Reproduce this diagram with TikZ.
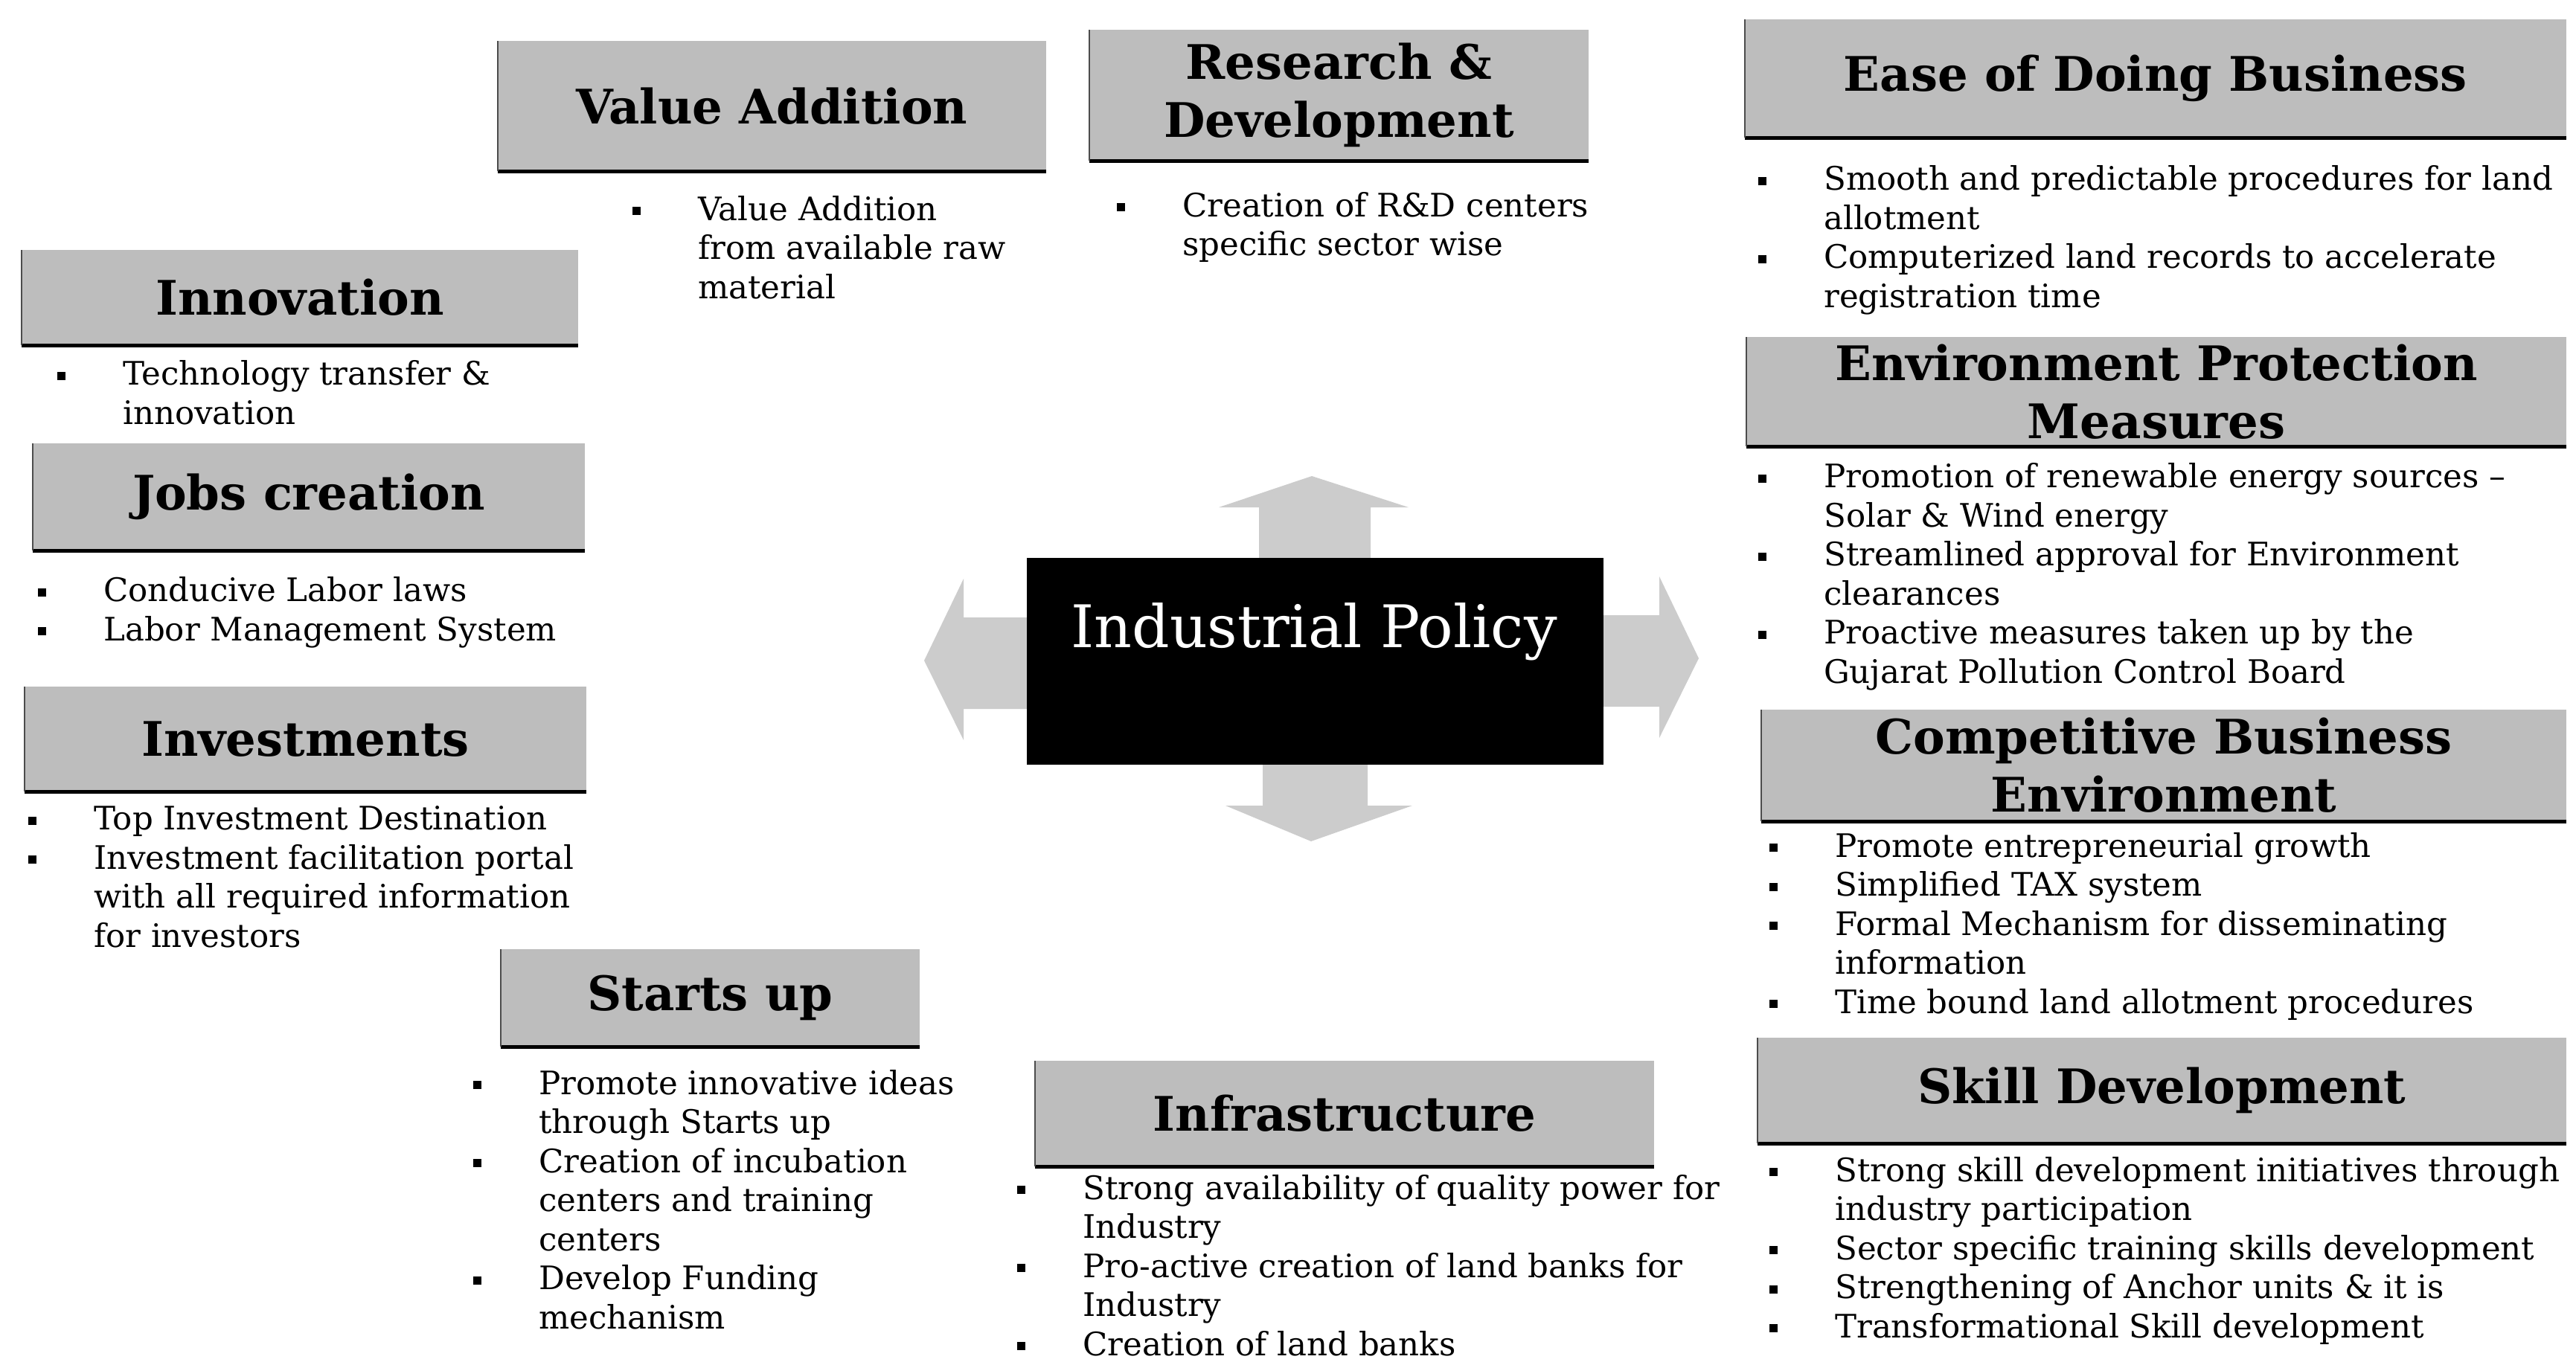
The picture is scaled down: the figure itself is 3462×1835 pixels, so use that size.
\documentclass[tikz,border=0pt]{standalone}
\usepackage{fontspec}
\setmainfont{DejaVu Serif}
\newcommand{\bul}{\makebox[88pt][l]{\raisebox{7pt}{\rule{11pt}{11pt}}}}
\newcommand{\ind}{\hspace*{88pt}}
\newcommand{\hbx}[6]{%
  \node[hdr, minimum width={#4pt-#2pt}, minimum height={#5pt-#3pt}] (#1) at ({(#2+#4)/2},{(#3+#5)/2}) {#6};
  \draw[hbar] (#1.south west) -- (#1.south east);
  \draw[hleft] (#1.south west) -- (#1.north west);}
\begin{document}
\begin{tikzpicture}[x=1pt,y=-1pt,
  hdr/.style={fill=black!26, inner sep=0pt, align=center, font=\fontsize{64}{78}\selectfont\bfseries},
  hbar/.style={line width=5pt, black},
  hleft/.style={line width=1.5pt, black!70},
  body/.style={anchor=base west, inner sep=0pt, align=left, font=\fontsize{43.5}{52.5}\selectfont},
  arr/.style={fill=black!20, draw=none}]
\useasboundingbox (0,0) rectangle (3462,1835);

% four-way arrow behind the central box
\fill[arr] (1692,760) -- (1692,682) -- (1638,682) -- (1763,640) -- (1893,682) -- (1842,682) -- (1842,760) -- cycle;
\fill[arr] (1697,1020) -- (1697,1083) -- (1647,1083) -- (1762,1131) -- (1898,1083) -- (1838,1083) -- (1838,1020) -- cycle;
\fill[arr] (1390,830) -- (1295,830) -- (1295,778) -- (1242,888) -- (1295,995) -- (1295,953) -- (1390,953) -- cycle;
\fill[arr] (2145,827) -- (2230,827) -- (2230,775) -- (2283,885) -- (2230,992) -- (2230,950) -- (2145,950) -- cycle;

% central box
\node[fill=black, inner sep=0pt, minimum width=775pt, minimum height=278pt] (ip) at (1767.5,889) {};
\node[text=white, inner sep=0pt, font=\fontsize{79}{82}\selectfont] (title) at (1766,849) {Industrial Policy};

% header boxes
\hbx{va}{669}{55}{1406}{230}{Value Addition}
\hbx{rd}{1464}{40}{2135}{216}{Research \&\\Development}
\hbx{eod}{2345}{26}{3449}{185}{Ease of Doing Business}
\hbx{inn}{29}{336}{777}{464}{Innovation}
\hbx{jobs}{44}{596}{786}{740}{Jobs creation}
\hbx{inv}{33}{923}{788}{1064}{Investments}
\hbx{st}{673}{1276}{1236}{1407}{Starts up}
\hbx{infra}{1391}{1426}{2223}{1568}{Infrastructure}
\hbx{env}{2347}{453}{3449}{600}{Environment Protection\\Measures}
\hbx{cbe}{2367}{954}{3449}{1104}{Competitive Business\\Environment}
\hbx{skill}{2362}{1395}{3449}{1537}{Skill Development}

% bullet lists (anchored at the baseline of their last line)
\node[body] (vat) at (850,401) {\bul Value Addition\\ \ind from available raw\\ \ind material};
\node[body] (rdt) at (1501,344) {\bul Creation of R\&D centers\\ \ind specific sector wise};
\node[body] (eodt) at (2363,413) {\bul Smooth and predictable procedures for land\\ \ind allotment\\ \bul Computerized land records to accelerate\\ \ind registration time};
\node[body] (innt) at (77,570) {\bul Technology transfer \&\\ \ind innovation};
\node[body] (jobst) at (51,861) {\bul Conducive Labor laws\\ \bul Labor Management System};
\node[body] (invt) at (38,1273) {\bul Top Investment Destination\\ \bul Investment facilitation portal\\ \ind with all required information\\ \ind for investors};
\node[body] (stt) at (636,1786) {\bul Promote innovative ideas\\ \ind through Starts up\\ \bul Creation of incubation\\ \ind centers and training\\ \ind centers\\ \bul Develop Funding\\ \ind mechanism};
\node[body] (infrat) at (1367,1822) {\bul Strong availability of quality power for\\ \ind Industry\\ \bul Pro-active creation of land banks for\\ \ind Industry\\ \bul Creation of land banks};
\node[body] (envt) at (2363,918) {\bul Promotion of renewable energy sources --\\ \ind Solar \& Wind energy\\ \bul Streamlined approval for Environment\\ \ind clearances\\ \bul Proactive measures taken up by the\\ \ind Gujarat Pollution Control Board};
\node[body] (cbet) at (2378,1362) {\bul Promote entrepreneurial growth\\ \bul Simplified TAX system\\ \bul Formal Mechanism for disseminating\\ \ind information\\ \bul Time bound land allotment procedures};
\node[body] (skillt) at (2378,1798) {\bul Strong skill development initiatives through\\ \ind industry participation\\ \bul Sector specific training skills development\\ \bul Strengthening of Anchor units \& it is\\ \bul Transformational Skill development};
\end{tikzpicture}
\end{document}
